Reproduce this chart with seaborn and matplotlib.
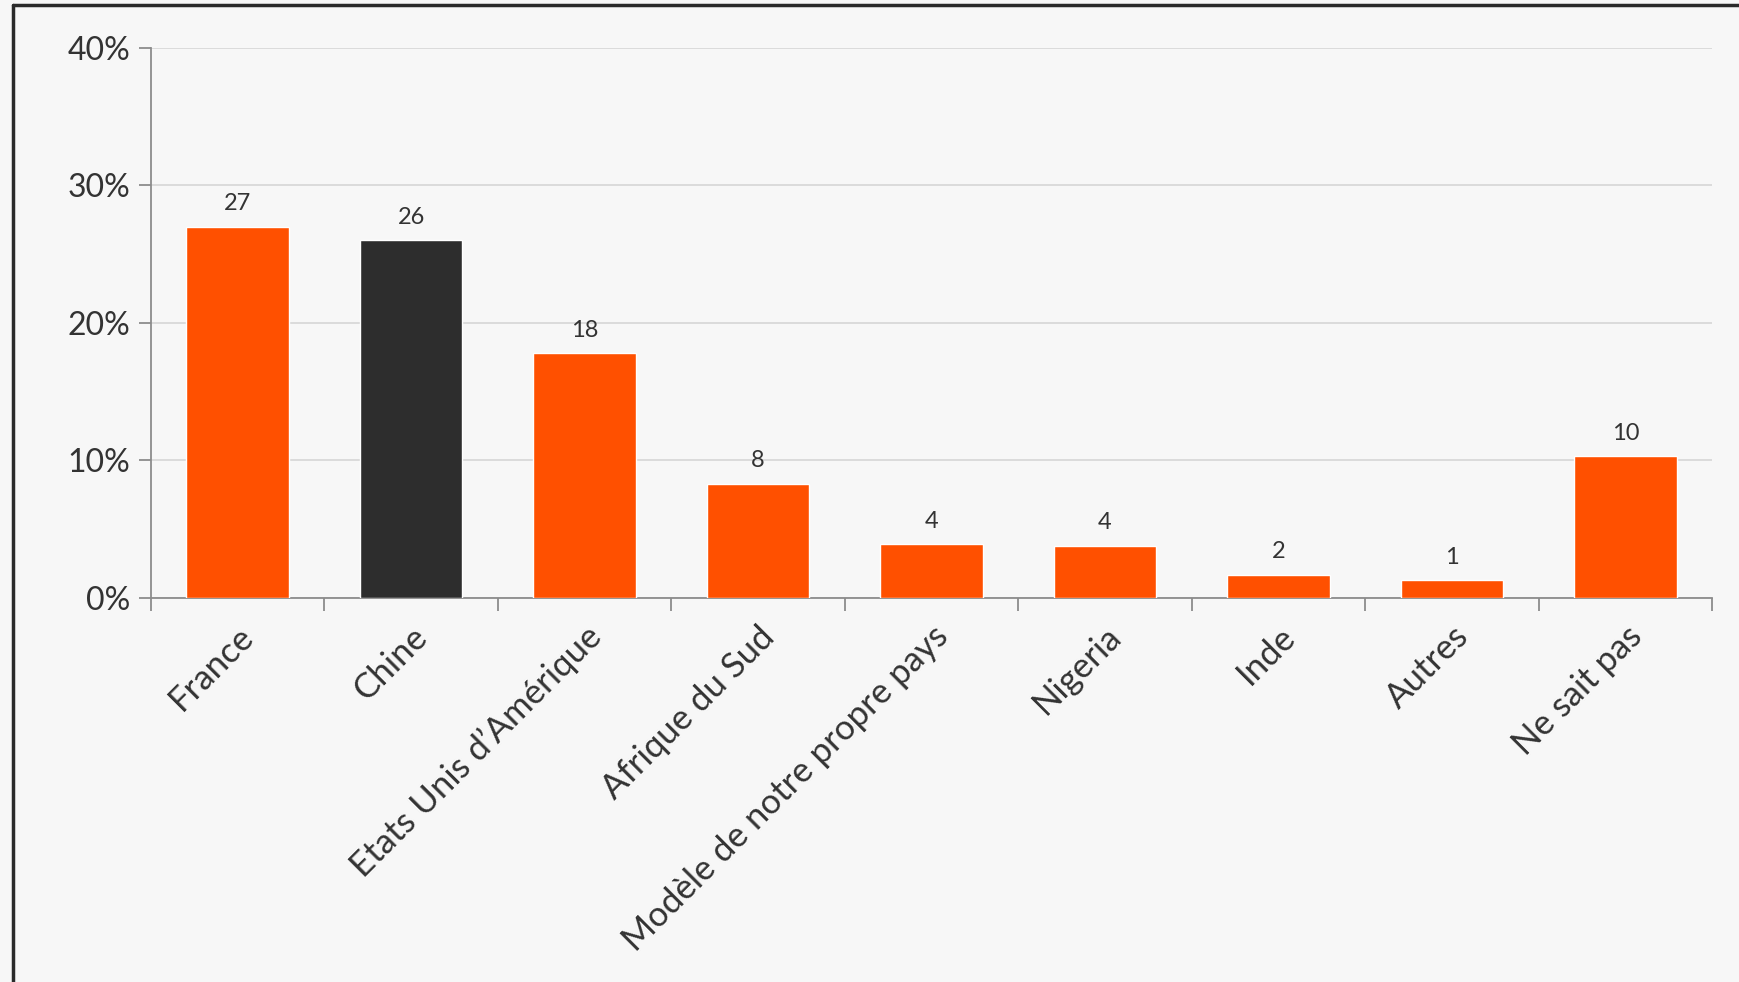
import matplotlib
matplotlib.use("Agg")
import matplotlib.pyplot as plt
import seaborn as sns
import pandas as pd
import numpy as np
from matplotlib.lines import Line2D
from matplotlib.ticker import FixedLocator

# Data
categories = ["France", "Chine", "Etats Unis d\u2019Am\u00e9rique", "Afrique du Sud",
              "Mod\u00e8le de notre propre pays", "Nigeria", "Inde", "Autres", "Ne sait pas"]
values = [27.0, 26.0, 17.8, 8.3, 3.9, 3.8, 1.7, 1.3, 10.3]
labels = ["27", "26", "18", "8", "4", "4", "2", "1", "10"]
yticks = [0, 10, 20, 30, 40]

orange = "#FF5000"
dark = "#2D2D2D"
colors = [dark if c == "Chine" else orange for c in categories]

df = pd.DataFrame({"pays": categories, "pct": values})

sns.set_style("white")
plt.rcParams["font.family"] = ["Lato", "DejaVu Sans"]

fig = plt.figure(figsize=(17.4, 9.82), dpi=100)
fig.patch.set_facecolor("#F7F7F7")
ax = fig.add_axes([0.0867, 0.391, 0.8973, 0.5604])
ax.set_facecolor("#F7F7F7")

sns.barplot(data=df, x="pays", y="pct", hue="pays", palette=colors,
            legend=False, width=0.59, saturation=1, ax=ax, zorder=3)

for i, (v, t) in enumerate(zip(values, labels)):
    ax.text(i, v + 0.9, t, ha="center", va="bottom", fontsize=17, color="#333333")

ax.set_xlim(-0.5, len(categories) - 0.5)
ax.set_ylim(0, 40)
ax.set_yticks(yticks)
ax.set_yticklabels([f"{t}%" for t in yticks], fontsize=23, color="#333333")
ax.yaxis.grid(True, color="#D9D9D9", linewidth=1.3, zorder=0)
ax.set_axisbelow(True)

ax.set_xticks(range(len(categories)))
ax.set_xticklabels(categories, rotation=45, ha="right", rotation_mode="anchor",
                   fontsize=25, color="#333333")
ax.xaxis.set_minor_locator(FixedLocator(np.arange(-0.5, len(categories), 1.0)))
ax.tick_params(axis="x", which="major", bottom=True, length=0, pad=16)
ax.tick_params(axis="x", which="minor", bottom=True, length=9, width=1.3,
               color="#8C8C8C", direction="out")
ax.tick_params(axis="y", left=True, length=9, width=1.3, color="#8C8C8C",
               direction="out", pad=6)

ax.set_xlabel("")
ax.set_ylabel("")
for s in ["top", "right"]:
    ax.spines[s].set_visible(False)
for s in ["left", "bottom"]:
    ax.spines[s].set_color("#8C8C8C")
    ax.spines[s].set_linewidth(1.3)

# frame border (top and left edges)
fig.add_artist(Line2D([0.0077, 0.0077], [0.0, 0.9944], color="#2A2A2A", linewidth=2.5))
fig.add_artist(Line2D([0.0077, 1.0], [0.9944, 0.9944], color="#2A2A2A", linewidth=2.5))

fig.savefig("out.png", dpi=100, facecolor=fig.get_facecolor())
